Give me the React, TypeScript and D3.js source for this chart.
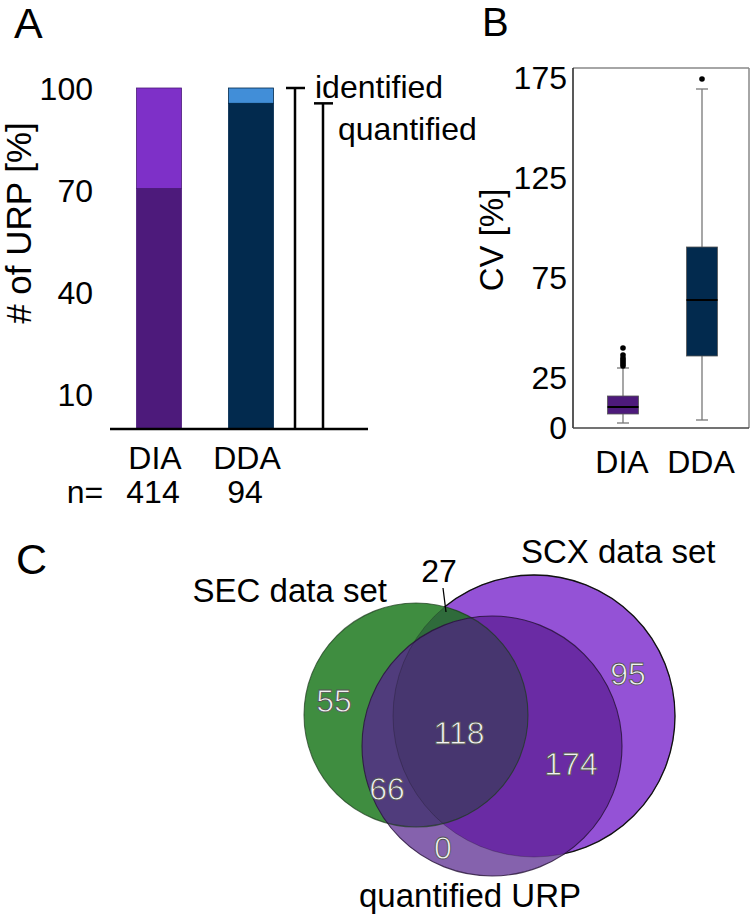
import React from 'react';
import * as d3 from 'd3';

// ---------- data ----------
const barCategories = ['DIA', 'DDA'];
const barCounts = ['414', '94'];
const identifiedPct = [100, 100];
const quantifiedPct = [70.5, 95.5];
const barTicks = [10, 40, 70, 100];
const bracketLabels = ['identified', 'quantified'];

const boxCategories = ['DIA', 'DDA'];
const boxWhiskerLow = [2.5, 4];
const boxQ1 = [7, 36];
const boxMedian = [10.5, 64];
const boxQ3 = [16, 90.5];
const boxWhiskerHigh = [30, 169.5];
const boxOutliersDIA = [31, 32, 33, 34, 35, 36.5, 40];
const boxOutliersDDA = [174.5];
const boxTicks = [0, 25, 75, 125, 175];

const vennSetNames = ['SEC data set', 'SCX data set', 'quantified URP'];
const vennRegionNames = ['SEC', 'SEC&SCX', 'SCX', 'SEC&SCX&URP', 'SCX&URP', 'SEC&URP', 'URP'];
const vennRegionCounts = [55, 27, 95, 118, 174, 66, 0];

// ---------- style ----------
const FONT = 'Liberation Sans, Arial, Helvetica, sans-serif';
const FS = 32;
const barIdentColors = ['#7e30c8', '#418ed8'];
const barQuantColors = ['#4d1a7b', '#022a4e'];
const boxColors = ['#4d1a7b', '#022a4e'];

// ---------- layout ----------
const A = { x0: 110, x1: 368, yBase: 429, yTop: 88, barW: 45, c0: 159, c1: 251 };
const B = { left: 573, right: 749, top: 68, bottom: 428, c0: 623, c1: 702, boxW: 31 };
// venn circles (layout, px)
const vennCircles = [
  { cx: 416, cy: 715, r: 112 }, // SEC
  { cx: 534, cy: 716, r: 141 }, // SCX
  { cx: 492, cy: 746, r: 130 }, // quantified URP
];
const vennLabelPos: [number, number][] = [
  [334, 700], [439, 571], [628, 673], [459, 732], [571, 763], [387, 788], [443, 847],
];

export default function App() {
  const yA = d3.scaleLinear().domain([0, 100]).range([A.yBase, A.yTop]);
  const xA = d3.scalePoint<string>().domain(barCategories).range([A.c0, A.c1]);

  const yB = d3.scaleLinear().domain([0, 180]).range([B.bottom, B.top]);
  const xB = d3.scalePoint<string>().domain(boxCategories).range([B.c0, B.c1]);
  const outliers = [boxOutliersDIA, boxOutliersDDA];

  const [sec, scx, urp] = vennCircles;
  const vennRegionFill: Record<string, string> = {
    SEC: '#3f8d40',
    SCX: '#9452d6',
    'SEC&SCX': '#2f6b3b',
    URP: '#8562ad',
    'SCX&URP': '#6a2ba4',
    'SEC&URP': '#503c7c',
    'SEC&SCX&URP': '#47366f',
  };

  const bracketX = [295, 323];
  const bracketTop = [identifiedPct[1], quantifiedPct[1]];

  return (
    <svg width={750} height={916} style={{ position: 'absolute', left: 0, top: 0, background: '#fff' }}
      fontFamily={FONT}>
      <defs>
        <clipPath id="clipSEC"><circle cx={sec.cx} cy={sec.cy} r={sec.r} /></clipPath>
        <clipPath id="clipSCX"><circle cx={scx.cx} cy={scx.cy} r={scx.r} /></clipPath>
        <clipPath id="clipURP"><circle cx={urp.cx} cy={urp.cy} r={urp.r} /></clipPath>
      </defs>

      {/* ---------------- Panel A ---------------- */}
      <text x={14} y={38} fontSize={43}>A</text>
      <text transform={`translate(31,223) rotate(-90)`} textAnchor="middle" fontSize={35}>
        # of URP [%]
      </text>
      {barTicks.map(t => (
        <text key={t} x={93} y={yA(t)} dy="0.36em" textAnchor="end" fontSize={FS}>{t}</text>
      ))}
      {barCategories.map((c, i) => {
        const cx = xA(c)!;
        return (
          <g key={c}>
            <rect x={cx - A.barW / 2} y={yA(identifiedPct[i])} width={A.barW}
              height={yA(quantifiedPct[i]) - yA(identifiedPct[i])} fill={barIdentColors[i]}
              stroke={barQuantColors[i]} strokeWidth={0.8} />
            <rect x={cx - A.barW / 2} y={yA(quantifiedPct[i])} width={A.barW}
              height={yA(0) - yA(quantifiedPct[i])} fill={barQuantColors[i]}
              stroke={barQuantColors[i]} strokeWidth={0.8} />
            <text x={cx - 4} y={469} textAnchor="middle" fontSize={FS}>{c}</text>
            <text x={cx - 6} y={503} textAnchor="middle" fontSize={FS}>{barCounts[i]}</text>
          </g>
        );
      })}
      <text x={85} y={503} textAnchor="middle" fontSize={FS}>n=</text>
      <line x1={A.x0} x2={A.x1} y1={A.yBase} y2={A.yBase} stroke="#000" strokeWidth={2.5} />
      {bracketX.map((bx, i) => (
        <g key={i}>
          <line x1={bx} x2={bx} y1={yA(bracketTop[i])} y2={A.yBase} stroke="#000" strokeWidth={2.5} />
          <line x1={bx - 9} x2={bx + 10} y1={yA(bracketTop[i])} y2={yA(bracketTop[i])} stroke="#000" strokeWidth={2.5} />
        </g>
      ))}
      <text x={315} y={98} fontSize={FS}>{bracketLabels[0]}</text>
      <text x={338} y={140} fontSize={FS}>{bracketLabels[1]}</text>

      {/* ---------------- Panel B ---------------- */}
      <text x={482} y={36} fontSize={40}>B</text>
      <text transform={`translate(503,240) rotate(-90)`} textAnchor="middle" fontSize={33}>CV [%]</text>
      {boxTicks.map(t => (
        <text key={t} x={567} y={yB(t)} dy="0.34em" textAnchor="end" fontSize={FS}>{t}</text>
      ))}
      <line x1={B.left} x2={B.right} y1={B.top} y2={B.top} stroke="#888" strokeWidth={1.5} />
      <line x1={B.right} x2={B.right} y1={B.top} y2={B.bottom} stroke="#888" strokeWidth={1.5} />
      <line x1={B.left} x2={B.left} y1={B.top} y2={B.bottom} stroke="#222" strokeWidth={1.5} />
      <line x1={B.left} x2={B.right} y1={B.bottom} y2={B.bottom} stroke="#444" strokeWidth={1.5} />
      {boxCategories.map((c, i) => {
        const cx = xB(c)!;
        const w = B.boxW;
        return (
          <g key={c}>
            <line x1={cx} x2={cx} y1={yB(boxWhiskerHigh[i])} y2={yB(boxQ3[i])} stroke="#777" strokeWidth={1.3} />
            <line x1={cx} x2={cx} y1={yB(boxQ1[i])} y2={yB(boxWhiskerLow[i])} stroke="#777" strokeWidth={1.3} />
            <line x1={cx - 6} x2={cx + 6} y1={yB(boxWhiskerHigh[i])} y2={yB(boxWhiskerHigh[i])} stroke="#777" strokeWidth={1.3} />
            <line x1={cx - 6} x2={cx + 6} y1={yB(boxWhiskerLow[i])} y2={yB(boxWhiskerLow[i])} stroke="#777" strokeWidth={1.3} />
            <rect x={cx - w / 2} y={yB(boxQ3[i])} width={w} height={yB(boxQ1[i]) - yB(boxQ3[i])}
              fill={boxColors[i]} stroke="#555" strokeWidth={0.8} />
            <line x1={cx - w / 2} x2={cx + w / 2} y1={yB(boxMedian[i])} y2={yB(boxMedian[i])} stroke="#000" strokeWidth={2} />
            {outliers[i].map((o, j) => (
              <circle key={j} cx={cx} cy={yB(o)} r={2.8} fill="#000" />
            ))}
            <text x={cx - 1} y={473} textAnchor="middle" fontSize={FS}>{c}</text>
          </g>
        );
      })}

      {/* ---------------- Panel C ---------------- */}
      <text x={16} y={574} fontSize={43}>C</text>
      {/* base circles */}
      <circle cx={scx.cx} cy={scx.cy} r={scx.r} fill={vennRegionFill.SCX} stroke="#111" strokeWidth={1.3} />
      <circle cx={sec.cx} cy={sec.cy} r={sec.r} fill={vennRegionFill.SEC} />
      <g clipPath="url(#clipSCX)">
        <circle cx={sec.cx} cy={sec.cy} r={sec.r} fill={vennRegionFill['SEC&SCX']} />
      </g>
      <circle cx={urp.cx} cy={urp.cy} r={urp.r} fill={vennRegionFill.URP} />
      <g clipPath="url(#clipSCX)">
        <circle cx={urp.cx} cy={urp.cy} r={urp.r} fill={vennRegionFill['SCX&URP']} />
      </g>
      <g clipPath="url(#clipSEC)">
        <circle cx={urp.cx} cy={urp.cy} r={urp.r} fill={vennRegionFill['SEC&URP']} />
        <g clipPath="url(#clipSCX)">
          <circle cx={urp.cx} cy={urp.cy} r={urp.r} fill={vennRegionFill['SEC&SCX&URP']} />
        </g>
      </g>
      {/* outlines */}
      <circle cx={scx.cx} cy={scx.cy} r={scx.r} fill="none" stroke="#111" strokeWidth={1} strokeOpacity={0.25} />
      <circle cx={sec.cx} cy={sec.cy} r={sec.r} fill="none" stroke="#1d3a1d" strokeWidth={1.1} strokeOpacity={0.7} />
      <circle cx={urp.cx} cy={urp.cy} r={urp.r} fill="none" stroke="#241036" strokeWidth={1.1} strokeOpacity={0.8} />

      {vennRegionNames.map((n, i) => {
        const [lx, ly] = vennLabelPos[i];
        if (n === 'SEC&SCX') {
          return (
            <g key={n}>
              <text x={lx} y={582} textAnchor="middle" fontSize={FS} fill="#000">{vennRegionCounts[i]}</text>
              <line x1={443} y1={588} x2={446} y2={612} stroke="#000" strokeWidth={1.3} />
            </g>
          );
        }
        return (
          <text key={n} x={lx} y={ly} dy="0.36em" textAnchor="middle" fontSize={32}
            fill="#f2f2f2" stroke="#555" strokeWidth={0.9}>{vennRegionCounts[i]}</text>
        );
      })}
      <text x={387} y={602} textAnchor="end" fontSize={33}>{vennSetNames[0]}</text>
      <text x={521} y={563} fontSize={33}>{vennSetNames[1]}</text>
      <text x={470} y={907} textAnchor="middle" fontSize={33}>{vennSetNames[2]}</text>
    </svg>
  );
}
